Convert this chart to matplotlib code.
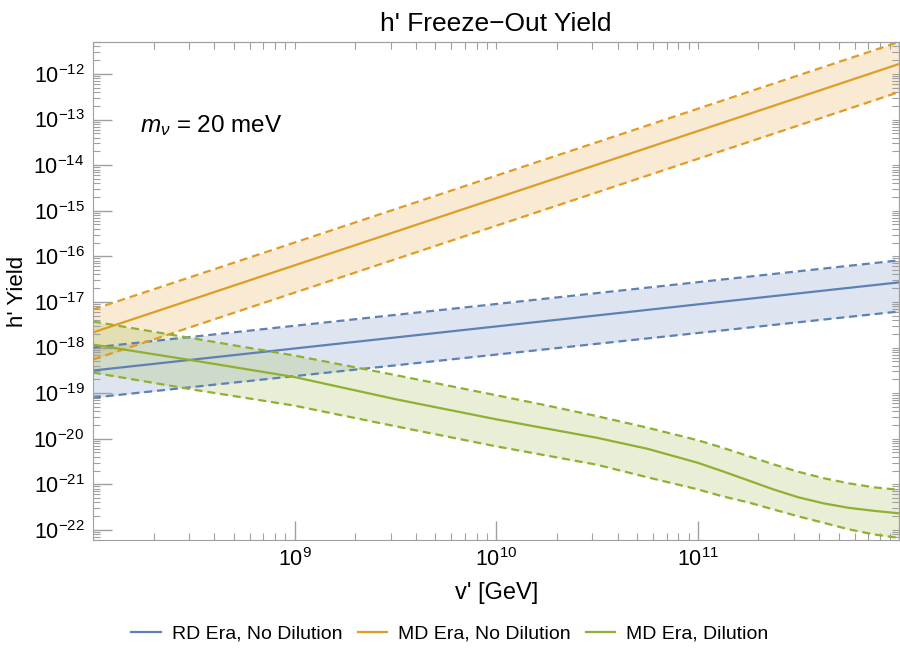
import matplotlib
matplotlib.use('Agg')
import matplotlib.pyplot as plt
from matplotlib.ticker import LogLocator, FixedLocator, NullFormatter

plt.rcParams['font.family'] = ['Liberation Sans', 'DejaVu Sans']
plt.rcParams['mathtext.fontset'] = 'custom'
plt.rcParams['mathtext.rm'] = 'Liberation Sans'
plt.rcParams['mathtext.it'] = 'Liberation Sans:italic'

# RD era, no dilution (straight in log-log)
x_rd = [1e8, 1e10, 1e12]
rd_mid = [3.13e-19, 2.9e-18, 2.69e-17]
rd_hi = [1.0e-18, 9.0e-18, 8.17e-17]
rd_lo = [7.96e-20, 7.0e-19, 6.18e-18]

# MD era, no dilution
x_md = [1e8, 1e10, 1e12]
md_mid = [2.14e-18, 1.88e-15, 1.66e-12]
md_hi = [6.84e-18, 5.87e-15, 5.05e-12]
md_lo = [5.45e-19, 4.68e-16, 4.02e-13]

# MD era, dilution
x_dil = [1e8, 3.16e8, 1e9, 3.16e9, 1e10, 1.78e10, 3.16e10, 5.62e10, 1e11, 1.33e11,
         1.78e11, 2.37e11, 3.16e11, 4.22e11, 5.62e11, 7.5e11, 1e12]
dil_mid = [1.16e-18, 5.18e-19, 2.25e-19, 7.38e-20, 2.67e-20, 1.67e-20, 1.05e-20, 6.03e-21, 2.97e-21,
           1.93e-21, 1.22e-21, 7.76e-22, 5.18e-22, 3.82e-22, 3.05e-22, 2.62e-22, 2.31e-22]
dil_hi = [3.72e-18, 1.58e-18, 6.67e-19, 2.49e-19, 9.0e-20, 5.37e-20, 3.13e-20, 1.75e-20, 9.27e-21,
          6.34e-21, 4.17e-21, 2.75e-21, 1.88e-21, 1.36e-21, 1.05e-21, 8.59e-22, 7.57e-22]
dil_lo = [2.82e-19, 1.19e-19, 5.31e-20, 1.88e-20, 6.81e-21, 4.28e-21, 2.69e-21, 1.43e-21, 7.76e-22,
          5.44e-22, 4.02e-22, 2.82e-22, 1.98e-22, 1.43e-22, 1.03e-22, 7.96e-23, 6.67e-23]

labels = ['RD Era, No Dilution', 'MD Era, No Dilution', 'MD Era, Dilution']
colors = ['#5E81B5', '#E19C24', '#8FB032']
x_ticks = [1e9, 1e10, 1e11]

fig = plt.figure(figsize=(9, 6.57), dpi=100)
ax = fig.add_axes([0.1033, 0.178, 0.896, 0.758])

series = [(x_rd, rd_mid, rd_hi, rd_lo), (x_md, md_mid, md_hi, md_lo), (x_dil, dil_mid, dil_hi, dil_lo)]
for (x, mid, hi, lo), c, lab in zip(series, colors, labels):
    ax.fill_between(x, lo, hi, color=c, alpha=0.2, lw=0)
    ax.plot(x, mid, color=c, lw=1.6, label=lab)
    ax.plot(x, hi, color=c, lw=1.6, dashes=(3.6, 2.2))
    ax.plot(x, lo, color=c, lw=1.6, dashes=(3.6, 2.2))

ax.set_xscale('log')
ax.set_yscale('log')
ax.set_xlim(1e8, 1e12)
ax.set_ylim(6.0e-23, 5.0e-12)

ax.xaxis.set_major_locator(FixedLocator(x_ticks))
ax.yaxis.set_major_locator(LogLocator(base=10, numticks=20))
ax.xaxis.set_minor_locator(LogLocator(base=10, subs=range(2, 10), numticks=50))
ax.yaxis.set_minor_locator(LogLocator(base=10, subs=range(2, 10), numticks=50))
ax.xaxis.set_minor_formatter(NullFormatter())
ax.yaxis.set_minor_formatter(NullFormatter())

gray = '#A0A0A0'
for s in ax.spines.values():
    s.set_color(gray)
ax.tick_params(which='major', direction='in', length=14, width=1, color=gray,
               labelsize=15.5, top=False, right=False, pad=6)
ax.tick_params(which='minor', direction='in', length=5, width=0.8, color=gray,
               top=True, right=True)

# short ticks on the top and right frame
sx = ax.secondary_xaxis('top')
sx.xaxis.set_major_locator(LogLocator(base=10, numticks=20))
sx.xaxis.set_minor_locator(LogLocator(base=10, subs=range(2, 10), numticks=50))
sx.tick_params(which='both', direction='in', length=5, color=gray, labeltop=False)
sx.xaxis.set_minor_formatter(NullFormatter())
sx.spines['top'].set_color(gray)
sy = ax.secondary_yaxis('right')
sy.yaxis.set_major_locator(LogLocator(base=10, numticks=20))
sy.yaxis.set_minor_locator(LogLocator(base=10, subs=range(2, 10), numticks=50))
sy.tick_params(which='both', direction='in', length=5, color=gray, labelright=False)
sy.yaxis.set_minor_formatter(NullFormatter())
sy.spines['right'].set_color(gray)

ax.set_title("h' Freeze\u2212Out Yield", fontsize=19, pad=8)
ax.set_xlabel("v' [GeV]", fontsize=17, labelpad=8)
ax.set_ylabel("h' Yield", fontsize=16, labelpad=4)

ax.text(0.058, 0.833, r'$m_{\nu}$ = 20 meV', transform=ax.transAxes,
        fontsize=17.5, va='center', ha='left')

fig.legend(loc='center', bbox_to_anchor=(0.5, 0.035), ncol=3, frameon=False,
           fontsize=14, handlelength=1.5, handletextpad=0.57, columnspacing=0.8)

fig.savefig('out.png', dpi=100)
